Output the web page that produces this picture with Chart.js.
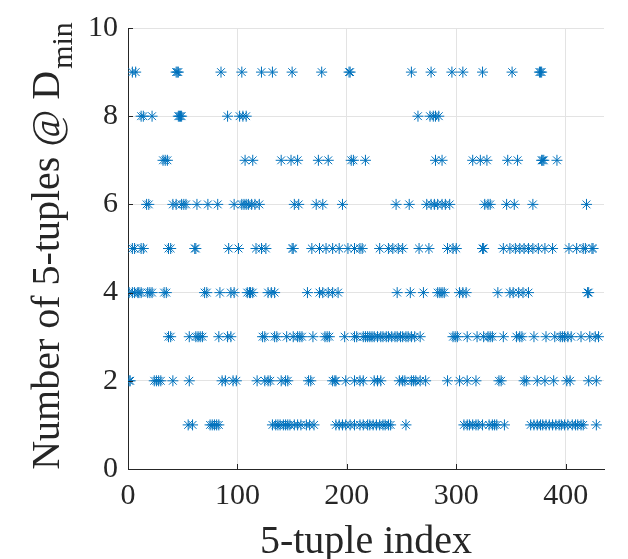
<!DOCTYPE html>
<html>
<head>
<meta charset="utf-8">
<script src="https://cdn.jsdelivr.net/npm/chart.js@4/dist/chart.umd.min.js"></script>
<style>
  html, body { margin: 0; padding: 0; background: #ffffff; }
  #wrap { width: 628px; height: 559px; }
</style>
</head>
<body>
<div id="wrap"><canvas id="c" width="628" height="559"></canvas></div>
<script>
// 5-tuple indices whose count of 5-tuples @ Dmin equals the given level
const level1 = [55, 59, 75, 77, 79, 81, 83, 132, 135, 137, 139, 142, 144, 146, 148, 152, 155, 158, 163, 166, 170, 190, 193, 196, 199, 203, 207, 212, 215, 219, 221, 224, 227, 230, 233, 235, 238, 240, 254, 307, 310, 312, 315, 318, 320, 324, 330, 333, 335, 337, 344, 368, 371, 374, 377, 379, 382, 385, 388, 391, 394, 396, 399, 402, 406, 409, 411, 414, 416, 428];
const level2 = [1, 2, 24, 26, 28, 30, 41, 56, 86, 89, 96, 99, 118, 125, 128, 130, 140, 144, 146, 165, 167, 187, 189, 190, 199, 207, 212, 215, 225, 228, 231, 248, 251, 253, 259, 261, 263, 267, 272, 292, 303, 310, 318, 339, 341, 362, 364, 374, 381, 389, 401, 404, 421, 428];
const level3 = [37, 39, 56, 62, 64, 66, 68, 83, 91, 94, 123, 125, 134, 136, 145, 151, 155, 157, 159, 169, 180, 182, 184, 198, 207, 209, 215, 217, 219, 221, 223, 225, 228, 231, 233, 236, 238, 241, 244, 246, 249, 251, 254, 256, 259, 262, 267, 297, 299, 301, 310, 319, 325, 329, 331, 333, 343, 355, 358, 360, 371, 382, 390, 395, 397, 399, 402, 405, 414, 422, 427, 430];
const level4 = [1, 4, 6, 9, 10, 12, 18, 20, 22, 33, 35, 70, 72, 84, 94, 97, 109, 111, 112, 114, 128, 131, 134, 164, 175, 178, 183, 187, 192, 246, 258, 270, 283, 285, 287, 289, 303, 306, 309, 338, 349, 352, 357, 361, 366, 420, 421];
const level5 = [4, 6, 12, 14, 37, 39, 61, 62, 92, 101, 117, 122, 126, 150, 151, 168, 175, 181, 187, 193, 201, 207, 212, 214, 230, 238, 242, 247, 251, 266, 275, 292, 297, 300, 324, 325, 343, 349, 354, 358, 362, 366, 370, 375, 381, 388, 403, 410, 416, 418, 424, 425];
const level6 = [17, 19, 41, 44, 49, 51, 53, 63, 73, 82, 97, 104, 106, 108, 110, 113, 116, 120, 152, 156, 172, 178, 196, 245, 257, 273, 277, 280, 283, 287, 290, 294, 326, 329, 331, 346, 353, 370, 419];
const level7 = [32, 34, 36, 107, 114, 140, 149, 155, 174, 183, 204, 206, 217, 281, 287, 315, 322, 328, 347, 356, 378, 379, 380, 392];
const level8 = [12, 14, 22, 46, 47, 48, 49, 91, 102, 105, 108, 265, 276, 279, 281, 284];
const level9 = [4, 7, 44, 45, 46, 85, 104, 122, 132, 150, 177, 202, 203, 259, 277, 296, 306, 324, 351, 376, 377, 378];

const levels = [1, 2, 3, 4, 5, 6, 7, 8, 9];
const levelIndices = [level1, level2, level3, level4, level5, level6, level7, level8, level9];

const xTicks = [0, 100, 200, 300, 400];
const yTicks = [0, 2, 4, 6, 8, 10];
const xMax = 435;

const xTitle = '5-tuple index';
const yTitleMain = 'Number of 5-tuples @ D';
const yTitleSub = 'min';

const points = [];
levelIndices.forEach((arr, i) => arr.forEach(ix => points.push({ x: ix, y: levels[i] })));

const FONT = "'Liberation Serif', 'Times New Roman', serif";
const AXIS = '#262626';
const GRID = '#e3e3e3';

const decor = {
  id: 'decor',
  afterDatasetsDraw(chart) {
    const ctx = chart.ctx;
    const xs = chart.scales.x, ys = chart.scales.y;
    const a = chart.chartArea;
    ctx.save();
    ctx.strokeStyle = AXIS;
    ctx.lineWidth = 1;
    ctx.beginPath();
    xTicks.forEach(v => {
      const px = Math.round(xs.getPixelForValue(v)) + 0.5;
      ctx.moveTo(px, a.bottom);
      ctx.lineTo(px, a.bottom - 5);
    });
    yTicks.forEach(v => {
      const py = Math.round(ys.getPixelForValue(v)) + 0.5;
      ctx.moveTo(a.left, py);
      ctx.lineTo(a.left + 5, py);
    });
    ctx.stroke();
    ctx.restore();
  },
  afterDraw(chart) {
    const ctx = chart.ctx;
    const a = chart.chartArea;
    ctx.save();
    ctx.fillStyle = AXIS;
    // x title
    ctx.font = `40px ${FONT}`;
    ctx.textAlign = 'center';
    ctx.textBaseline = 'middle';
    ctx.fillText(xTitle, (a.left + a.right) / 2, 542);
    // y title (rotated) with subscript
    ctx.translate(59, 246);
    ctx.rotate(-Math.PI / 2);
    ctx.textBaseline = 'alphabetic';
    ctx.textAlign = 'left';
    ctx.font = `40px ${FONT}`;
    const w1 = ctx.measureText(yTitleMain).width;
    ctx.font = `30px ${FONT}`;
    const w2 = ctx.measureText(yTitleSub).width;
    const start = -(w1 + w2 + 2) / 2;
    ctx.font = `40px ${FONT}`;
    ctx.fillText(yTitleMain, start, 0);
    ctx.font = `30px ${FONT}`;
    ctx.fillText(yTitleSub, start + w1 + 2, 13);
    ctx.restore();
  }
};

new Chart(document.getElementById('c'), {
  type: 'scatter',
  data: {
    datasets: [{
      data: points,
      pointStyle: 'star',
      radius: 5.5,
      hoverRadius: 5.5,
      borderWidth: 1,
      borderColor: '#0072BD',
      backgroundColor: '#0072BD'
    }]
  },
  options: {
    responsive: false,
    animation: false,
    events: [],
    layout: { padding: { left: 0, right: 24, top: 19, bottom: 0 } },
    plugins: { legend: { display: false }, tooltip: { enabled: false } },
    scales: {
      x: {
        type: 'linear',
        min: 0,
        max: xMax,
        afterFit(s) { s.height = 90; },
        afterBuildTicks(s) { s.ticks = xTicks.map(v => ({ value: v })); },
        ticks: { font: { family: FONT, size: 30 }, color: AXIS, padding: 9, maxRotation: 0, autoSkip: false, includeBounds: false },
        grid: { color: GRID, lineWidth: 1, drawTicks: false },
        border: { color: AXIS, width: 1 }
      },
      y: {
        type: 'linear',
        min: 0,
        max: 10,
        afterFit(s) { s.width = 128; },
        afterBuildTicks(s) { s.ticks = yTicks.map(v => ({ value: v })); },
        ticks: { font: { family: FONT, size: 30 }, color: AXIS, padding: 10, autoSkip: false },
        grid: { color: GRID, lineWidth: 1, drawTicks: false },
        border: { color: AXIS, width: 1 }
      }
    }
  },
  plugins: [decor]
});
</script>
</body>
</html>
